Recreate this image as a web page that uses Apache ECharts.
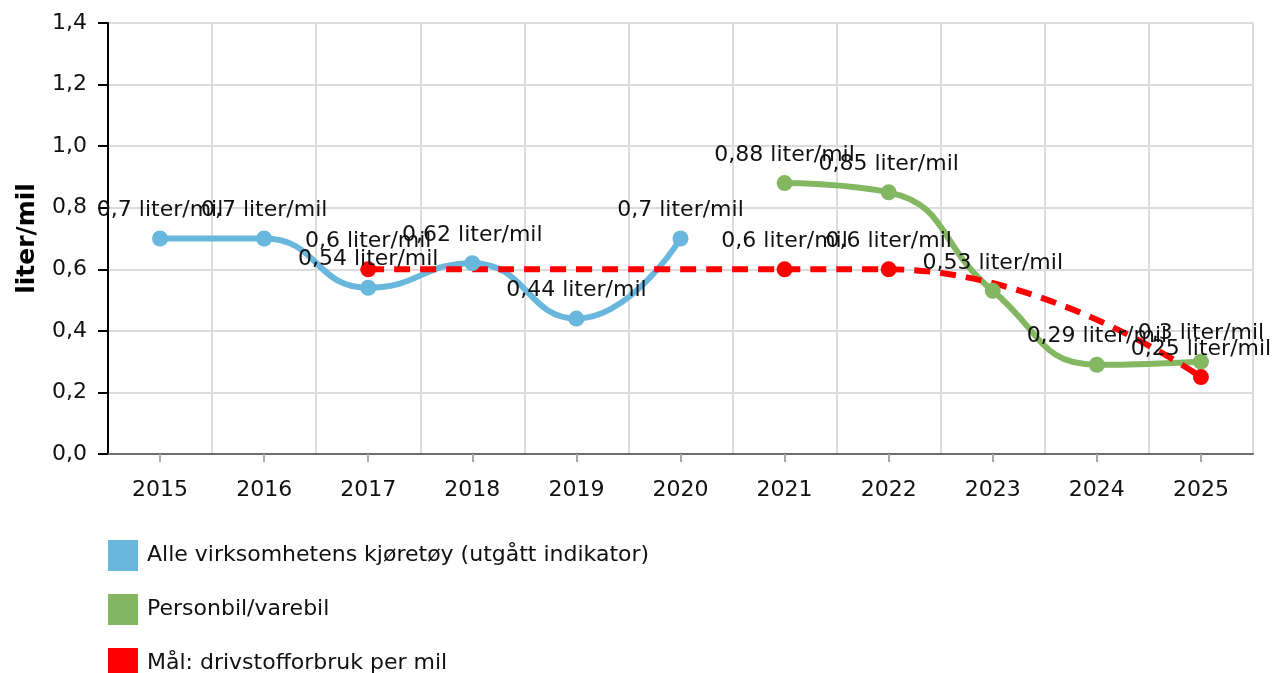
<!DOCTYPE html>
<html>
<head>
<meta charset="utf-8">
<script src="https://cdn.jsdelivr.net/npm/echarts@6/dist/echarts.min.js"></script>
<style>
  html, body { margin: 0; padding: 0; background: #fff; }
  #chart { width: 1273px; height: 673px; }
</style>
</head>
<body>
<div id="chart"></div>
<script>
  var years = ['2015', '2016', '2017', '2018', '2019', '2020', '2021', '2022', '2023', '2024', '2025'];

  // liter per mil, null where the series has no point
  var alleKjoretoy = [0.7, 0.7, 0.54, 0.62, 0.44, 0.7, null, null, null, null, null];
  var personbil = [null, null, null, null, null, null, 0.88, 0.85, 0.53, 0.29, 0.3];
  var maal = [null, null, 0.6, null, null, null, 0.6, 0.6, null, null, 0.25];

  var SERIES_NAMES = [
    'Alle virksomhetens kjøretøy (utgått indikator)',
    'Personbil/varebil',
    'Mål: drivstofforbruk per mil'
  ];

  var FONT = 'DejaVu Sans';

  function comma(v, digits) {
    return v.toFixed(digits).replace('.', ',');
  }

  function pointLabel(p) {
    return String(p.value).replace('.', ',') + ' liter/mil';
  }

  function lineSeries(name, data, color, dashed) {
    return {
      name: name,
      type: 'line',
      data: data,
      smooth: true,
      connectNulls: true,
      symbol: 'circle',
      symbolSize: 16,
      itemStyle: { color: color },
      lineStyle: {
        color: color,
        width: 6,
        type: dashed ? [16, 10] : 'solid'
      },
      label: {
        show: true,
        position: 'top',
        distance: 9,
        formatter: pointLabel,
        color: '#111',
        fontFamily: FONT,
        fontSize: 22
      },
      emphasis: { disabled: true }
    };
  }

  var chart = echarts.init(document.getElementById('chart'), null, { renderer: 'canvas' });

  chart.setOption({
    animation: false,
    textStyle: { fontFamily: FONT },
    grid: { left: 108, right: 20, top: 23, bottom: 219 },
    legend: {
      orient: 'vertical',
      left: 108,
      top: 540,
      height: 200,
      padding: 0,
      icon: 'rect',
      itemWidth: 30,
      itemHeight: 31,
      itemGap: 23,
      itemStyle: { borderWidth: 0 },
      lineStyle: { width: 0 },
      textStyle: { fontFamily: FONT, fontSize: 22, color: '#111', padding: [0, 0, 0, 4] },
      data: SERIES_NAMES
    },
    xAxis: {
      type: 'category',
      data: years,
      boundaryGap: true,
      axisLine: { lineStyle: { color: '#6e6e6e', width: 2 } },
      axisTick: { show: true, alignWithLabel: true, length: 8, lineStyle: { color: '#aaa', width: 2 } },
      axisLabel: { color: '#111', fontSize: 22, margin: 25, fontFamily: FONT },
      splitLine: { show: true, lineStyle: { color: '#dcdcdc', width: 2 } }
    },
    yAxis: {
      type: 'value',
      min: 0,
      max: 1.4,
      interval: 0.2,
      name: 'liter/mil',
      nameLocation: 'middle',
      nameGap: 68,
      nameTextStyle: { fontFamily: FONT, fontSize: 25, fontWeight: 'bold', color: '#000' },
      axisLine: { show: true, lineStyle: { color: '#000', width: 2 } },
      axisTick: { show: true, length: 10, lineStyle: { color: '#000', width: 2 } },
      axisLabel: {
        color: '#111',
        fontSize: 22,
        margin: 21,
        fontFamily: FONT,
        formatter: function (v) { return comma(v, 1); }
      },
      splitLine: { lineStyle: { color: '#dcdcdc', width: 2 } }
    },
    series: [
      lineSeries(SERIES_NAMES[0], alleKjoretoy, '#6ab7dd', false),
      lineSeries(SERIES_NAMES[1], personbil, '#84b762', false),
      lineSeries(SERIES_NAMES[2], maal, '#ff0000', true)
    ]
  });
</script>
</body>
</html>
